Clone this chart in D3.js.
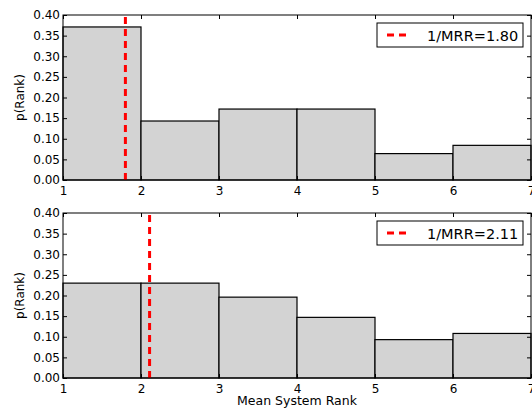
<!DOCTYPE html>
<html>
<head>
<meta charset="utf-8">
<script src="https://cdn.jsdelivr.net/npm/d3@7"></script>
<style>
  body { margin: 0; background: #fff; }
  text { font-family: "DejaVu Sans", sans-serif; }
</style>
</head>
<body>
<script>
// histogram bins (mean system rank) and probabilities for each panel
var binEdges = [1, 2, 3, 4, 5, 6, 7];
var topValues = [0.371, 0.143, 0.172, 0.172, 0.064, 0.084];
var bottomValues = [0.230, 0.230, 0.196, 0.147, 0.093, 0.108];
var mrr = [1.80, 2.11];
var yTicks = [0.00, 0.05, 0.10, 0.15, 0.20, 0.25, 0.30, 0.35, 0.40];
var xTicks = [1, 2, 3, 4, 5, 6, 7];

var W = 532, H = 408;
var svg = d3.select("body").append("svg")
    .attr("width", W).attr("height", H);

var x = d3.scaleLinear().domain([1, 7]).range([63, 531]);

function panel(values, inv, top, bottom) {
    var y = d3.scaleLinear().domain([0, 0.4]).range([bottom, top]);
    var g = svg.append("g");

    // bars
    g.selectAll("rect.bar")
        .data(values)
        .enter()
        .append("rect")
        .attr("class", "bar")
        .attr("x", function(d, i){ return x(binEdges[i]); })
        .attr("width", function(d, i){ return x(binEdges[i+1]) - x(binEdges[i]); })
        .attr("y", function(d){ return y(d); })
        .attr("height", function(d){ return y(0) - y(d); })
        .attr("fill", "#d3d3d3")
        .attr("stroke", "#000")
        .attr("stroke-width", 1.2);

    // 1/MRR line
    g.append("line")
        .attr("x1", x(inv)).attr("x2", x(inv))
        .attr("y1", y(0)).attr("y2", y(0.4))
        .attr("stroke", "#ff0000")
        .attr("stroke-width", 3)
        .attr("stroke-dasharray", "7,5");

    // axes, ticks pointing inward
    var fmt = d3.format(".2f");
    g.append("g")
        .attr("transform", "translate(0," + bottom + ")")
        .call(d3.axisBottom(x).tickValues(xTicks).tickFormat(d3.format("d"))
            .tickSize(-4).tickPadding(6));
    g.append("g")
        .attr("transform", "translate(0," + top + ")")
        .call(d3.axisTop(x).tickValues(xTicks).tickFormat("").tickSize(-4));
    g.append("g")
        .attr("transform", "translate(" + x(1) + ",0)")
        .call(d3.axisLeft(y).tickValues(yTicks).tickFormat(fmt)
            .tickSize(-4).tickPadding(3));
    g.append("g")
        .attr("transform", "translate(" + x(7) + ",0)")
        .call(d3.axisRight(y).tickValues(yTicks).tickFormat("").tickSize(-4));

    g.selectAll(".domain").remove();
    g.selectAll(".tick line").attr("stroke", "#000");
    g.selectAll(".tick text").attr("font-size", 12).attr("fill", "#000")
        .attr("font-family", "DejaVu Sans, sans-serif");

    // frame
    g.append("rect")
        .attr("x", x(1)).attr("y", top)
        .attr("width", x(7) - x(1)).attr("height", bottom - top)
        .attr("fill", "none").attr("stroke", "#000").attr("stroke-width", 1);

    // y label
    g.append("text")
        .attr("transform", "translate(24," + ((top + bottom) / 2) + ") rotate(-90)")
        .attr("text-anchor", "middle")
        .attr("font-size", 12)
        .text("p(Rank)");

    // legend
    var lg = g.append("g").attr("transform", "translate(377," + (top + 8) + ")");
    lg.append("rect")
        .attr("width", 146).attr("height", 24)
        .attr("fill", "#fff").attr("stroke", "#000").attr("stroke-width", 1);
    lg.append("line")
        .attr("x1", 10).attr("x2", 30).attr("y1", 12).attr("y2", 12)
        .attr("stroke", "#ff0000").attr("stroke-width", 3)
        .attr("stroke-dasharray", "7,5");
    lg.append("text")
        .attr("x", 50).attr("y", 17.5)
        .attr("font-size", 14.5)
        .text("1/MRR=" + inv.toFixed(2));
}

panel(topValues, mrr[0], 15, 180);
panel(bottomValues, mrr[1], 213, 378);

svg.append("text")
    .attr("x", (x(1) + x(7)) / 2)
    .attr("y", 405)
    .attr("text-anchor", "middle")
    .attr("font-size", 12.5)
    .text("Mean System Rank");
</script>
</body>
</html>
